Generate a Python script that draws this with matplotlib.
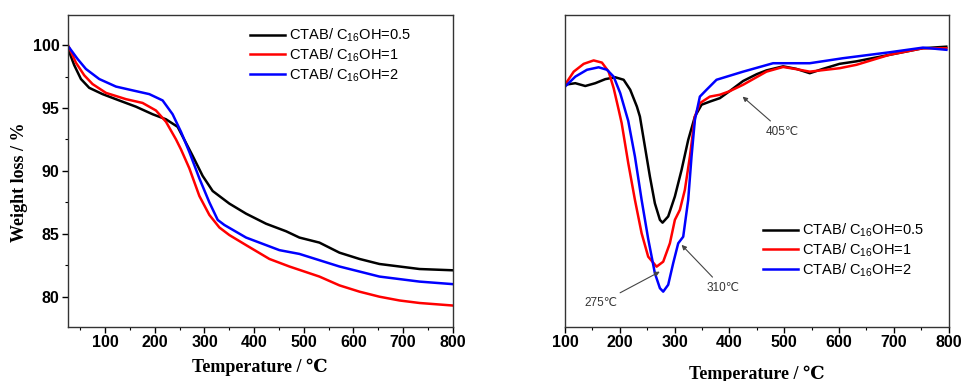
import matplotlib
matplotlib.use('Agg')
import matplotlib.pyplot as plt
from matplotlib.ticker import MultipleLocator, NullLocator

# ---- TGA (left panel) ----
tga_t_05 = [25, 37.5, 51, 67.7, 94.6, 128, 162, 195.5, 222.4, 245.9, 276.1, 296.3, 316.5,
            350.1, 383.8, 424.1, 464.5, 491.3, 531.6, 572, 612.4, 652.6, 693, 733.4, 800]
tga_w_05 = [99.7, 98.4, 97.3, 96.6, 96.1, 95.6, 95.1, 94.5, 94.1, 93.5, 91.2, 89.6, 88.4,
            87.4, 86.6, 85.8, 85.2, 84.7, 84.3, 83.5, 83.0, 82.6, 82.4, 82.2, 82.1]
tga_t_1 = [26, 40.9, 57.6, 74.4, 101.4, 141.8, 175.2, 202.2, 222.4, 242.6, 252.7, 269.5,
           289.7, 309.8, 330, 350.1, 383.8, 430.8, 471.1, 531.6, 572, 612.4, 652.6, 693, 733.4, 800]
tga_w_1 = [99.9, 98.6, 97.6, 96.9, 96.2, 95.7, 95.4, 94.8, 93.9, 92.5, 91.7, 90.2,
           88.0, 86.5, 85.5, 84.9, 84.1, 83.0, 82.4, 81.6, 80.9, 80.4, 80.0, 79.7, 79.5, 79.3]
tga_t_2 = [27.4, 44.1, 61, 87.9, 121.6, 155, 188.8, 215.6, 235.8, 252.7, 269.5, 289.7,
           309.8, 326.7, 340.1, 383.8, 451, 491.3, 531.6, 572, 612.4, 652.6, 693, 733.4, 800]
tga_w_2 = [99.8, 98.9, 98.1, 97.3, 96.7, 96.4, 96.1, 95.6, 94.5, 93.1, 91.5, 89.4,
           87.5, 86.1, 85.7, 84.7, 83.7, 83.4, 82.9, 82.4, 82.0, 81.6, 81.4, 81.2, 81.0]

# ---- DTG (right panel, arbitrary units) ----
dtg_t_05 = [100, 118.8, 137, 155.2, 173.5, 191.7, 207, 219, 231.2, 236.7, 245.8, 254.9, 264,
            273.2, 278, 288.3, 300.5, 312.7, 324.8, 337, 349.2, 364.3, 382.5, 400, 425, 450,
            467.6, 498, 522, 546.6, 570.9, 601, 631.7, 692.4, 753, 795.8]
dtg_y_05 = [77.6, 78.1, 77.2, 78.1, 79.4, 80.0, 79.2, 76.0, 70.6, 67.4, 57.8, 48.2, 39.6,
            34.3, 33.4, 35.4, 41.8, 50.3, 59.9, 67.4, 71.2, 72.2, 73.3, 75.5, 78.8, 81.0,
            82.2, 83.5, 82.7, 81.3, 82.7, 84.3, 85.1, 87.2, 89.3, 89.8]
dtg_t_1 = [100, 115.9, 134.1, 152.3, 167.4, 179.6, 188.8, 197.9, 203.4, 215.4, 227.6, 239.8,
           251.8, 267.1, 279.2, 291.4, 300.5, 309.6, 318.7, 327.9, 337, 346.1, 364.3, 382.5,
           400, 425, 467.6, 498, 522, 546.6, 601, 632, 692, 753, 796]
dtg_y_1 = [77.6, 81.8, 84.3, 85.4, 84.7, 81.8, 76.5, 69.6, 65.3, 52.5, 40.7, 30.0,
           22.5, 19.3, 20.9, 26.8, 34.3, 37.5, 43.9, 54.6, 67.4, 71.7, 73.8, 74.4,
           75.5, 77.6, 81.8, 83.3, 82.6, 81.8, 82.9, 84.0, 87.2, 89.3, 89.3]
dtg_t_2 = [100, 118.8, 140.1, 161.4, 176.6, 188.8, 200.8, 215.4, 227.6, 239.8, 251.8, 264,
           273.2, 279.2, 288.3, 297.4, 306.6, 315.7, 324.8, 330.9, 337, 346.1, 358.3, 376.5,
           425, 479.7, 510, 546.6, 607, 692, 753, 796]
dtg_y_2 = [77.0, 80.2, 82.4, 83.2, 82.4, 80.2, 74.9, 66.0, 54.6, 40.7, 28.2, 17.2,
           12.4, 11.3, 13.5, 20.4, 26.8, 28.9, 40.7, 54.6, 66.3, 73.8, 76.0, 79.2,
           81.8, 84.5, 84.5, 84.5, 86.1, 88.0, 89.5, 88.8]

labels = [r"CTAB/ C$_{16}$OH=0.5", r"CTAB/ C$_{16}$OH=1", r"CTAB/ C$_{16}$OH=2"]
colors = ["black", "#ff0000", "#0000ff"]

plt.rcParams['font.family'] = ['Liberation Sans', 'DejaVu Sans']
plt.rcParams['mathtext.fontset'] = 'custom'
plt.rcParams['mathtext.rm'] = 'Liberation Sans'

serif = ['Liberation Serif', 'DejaVu Serif']

fig = plt.figure(figsize=(9.65, 3.81), dpi=100)
ax1 = fig.add_axes([0.0705, 0.142, 0.3985, 0.819])
ax2 = fig.add_axes([0.5855, 0.142, 0.3975, 0.819])

lw = 1.8
ax1.plot(tga_t_05, tga_w_05, color=colors[0], lw=lw, label=labels[0])
ax1.plot(tga_t_1, tga_w_1, color=colors[1], lw=lw, label=labels[1])
ax1.plot(tga_t_2, tga_w_2, color=colors[2], lw=lw, label=labels[2])
ax1.set_xlim(25, 800)
ax1.set_ylim(77.6, 102.4)
ax1.xaxis.set_major_locator(MultipleLocator(100))
ax1.xaxis.set_minor_locator(MultipleLocator(50))
ax1.yaxis.set_major_locator(MultipleLocator(5))
ax1.yaxis.set_minor_locator(MultipleLocator(2.5))
ax1.set_xlabel("Temperature / ℃", family=serif, fontweight='bold', fontsize=13, labelpad=6)
ax1.set_ylabel("Weight loss / %", family=serif, fontweight='bold', fontsize=13)
ax1.yaxis.set_label_coords(-0.104, 0.465)
ax1.legend(loc='upper left', bbox_to_anchor=(0.458, 0.981), frameon=False, fontsize=10.5,
           handlelength=2.4, handletextpad=0.3, labelspacing=0.15, borderaxespad=0)

ax2.plot(dtg_t_05, dtg_y_05, color=colors[0], lw=lw, label=labels[0])
ax2.plot(dtg_t_1, dtg_y_1, color=colors[1], lw=lw, label=labels[1])
ax2.plot(dtg_t_2, dtg_y_2, color=colors[2], lw=lw, label=labels[2])
ax2.set_xlim(100, 800)
ax2.set_ylim(0, 100)
ax2.xaxis.set_major_locator(MultipleLocator(100))
ax2.xaxis.set_minor_locator(MultipleLocator(50))
ax2.yaxis.set_major_locator(NullLocator())
ax2.yaxis.set_minor_locator(NullLocator())
ax2.set_xlabel("Temperature / ℃", family=serif, fontweight='bold', fontsize=13, labelpad=11)
ax2.legend(loc='upper left', bbox_to_anchor=(0.50, 0.356), frameon=False, fontsize=10.5,
           handlelength=2.4, handletextpad=0.3, labelspacing=0.15, borderaxespad=0)

arrow = dict(arrowstyle='-|>', color='#444444', lw=0.8, mutation_scale=7, shrinkA=2, shrinkB=0)
ax2.annotate("405℃", xy=(424, 73.8), xytext=(497, 62.6), fontsize=8.5, color='#333333',
             ha='center', va='center', arrowprops=arrow)
ax2.annotate("275℃", xy=(273, 17.7), xytext=(166, 7.7), fontsize=8.5, color='#333333',
             ha='center', va='center', arrowprops=arrow)
ax2.annotate("310℃", xy=(312.7, 26.3), xytext=(388, 12.5), fontsize=8.5, color='#333333',
             ha='center', va='center', arrowprops=arrow)

for ax in (ax1, ax2):
    for s in ax.spines.values():
        s.set_color('#333333')
        s.set_linewidth(1.0)
    ax.tick_params(which='major', direction='out', length=4, width=1, top=False, right=False,
                   labelsize=11.5, pad=2)
    ax.tick_params(which='minor', direction='out', length=2.5, width=0.8, top=False, right=False)
    for lab in ax.get_xticklabels() + ax.get_yticklabels():
        lab.set_fontweight('bold')

fig.savefig("out.png", dpi=100)
